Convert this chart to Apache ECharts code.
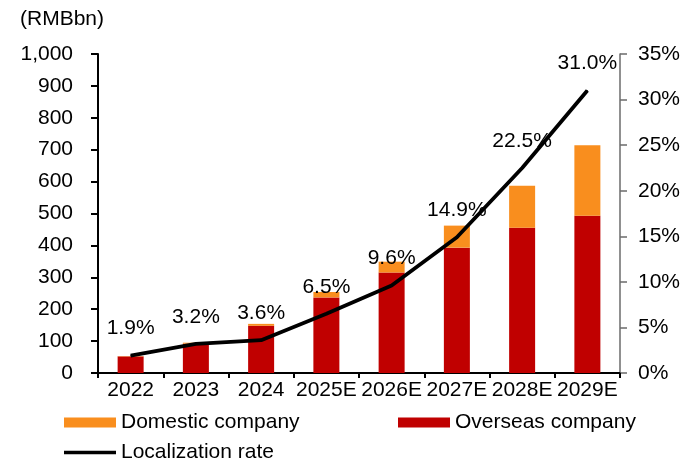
<!DOCTYPE html>
<html>
<head>
<meta charset="utf-8">
<script src="https://cdn.jsdelivr.net/npm/echarts@6/dist/echarts.min.js"></script>
<style>
  html, body { margin: 0; padding: 0; background: #fff; }
  #chart { width: 697px; height: 463px; }
</style>
</head>
<body>
<div id="chart"></div>
<script>
// Market size by year (RMB bn), split by supplier origin, plus localization rate (%)
const years = ['2022', '2023', '2024', '2025E', '2026E', '2027E', '2028E', '2029E'];
const overseas = [52, 92, 148, 237, 315, 393, 455, 493];
const domestic = [1, 3, 6, 17, 34, 69, 132, 221];
const localizationRate = [1.9, 3.2, 3.6, 6.5, 9.6, 14.9, 22.5, 31.0];

const FONT = 'Liberation Sans, Arial, sans-serif';
const FS = 21;

const legendText = { fontSize: FS, fontFamily: FONT, color: '#000' };

const chart = echarts.init(document.getElementById('chart'), null, { renderer: 'canvas' });

chart.setOption({
  animation: false,
  backgroundColor: '#ffffff',
  textStyle: { fontFamily: FONT, color: '#000' },
  grid: { left: 98, right: 77, top: 54, bottom: 90, containLabel: false },
  graphic: [{
    type: 'text',
    left: 20,
    top: 9,
    style: { text: '(RMBbn)', font: FS + 'px ' + FONT, fill: '#000' }
  }],
  legend: [
    {
      data: [{ name: 'Domestic company', icon: 'rect' }],
      left: 64, top: 412, padding: 0,
      itemWidth: 52, itemHeight: 10, itemGap: 0,
      textStyle: legendText
    },
    {
      data: [{ name: 'Overseas company', icon: 'rect' }],
      left: 398, top: 412, padding: 0,
      itemWidth: 52, itemHeight: 10, itemGap: 0,
      textStyle: legendText
    },
    {
      data: [{ name: 'Localization rate', icon: 'rect', itemStyle: { color: '#000' } }],
      left: 64, top: 442, padding: 0,
      itemWidth: 52, itemHeight: 3.5, itemGap: 0,
      textStyle: legendText
    }
  ],
  xAxis: {
    type: 'category',
    data: years,
    boundaryGap: true,
    axisLine: { lineStyle: { color: '#000', width: 2 } },
    axisTick: { show: true, length: 5, inside: false, lineStyle: { color: '#000', width: 2 } },
    axisLabel: { fontSize: FS, fontFamily: FONT, color: '#000', margin: 7, interval: 0 },
    splitLine: { show: false }
  },
  yAxis: [
    {
      type: 'value',
      min: 0, max: 1000, interval: 100,
      position: 'left',
      axisLine: { show: true, lineStyle: { color: '#000', width: 2 } },
      axisTick: { show: true, length: 7, lineStyle: { color: '#000', width: 2 } },
      axisLabel: {
        fontSize: FS, fontFamily: FONT, color: '#000', margin: 25,
        formatter: v => v.toLocaleString('en-US')
      },
      splitLine: { show: false }
    },
    {
      type: 'value',
      min: 0, max: 35, interval: 5,
      position: 'right',
      axisLine: { show: true, lineStyle: { color: '#6b6b6b', width: 1.5 } },
      axisTick: { show: true, length: 7, lineStyle: { color: '#6b6b6b', width: 1.5 } },
      axisLabel: {
        fontSize: FS, fontFamily: FONT, color: '#000', margin: 18,
        formatter: v => v + '%'
      },
      splitLine: { show: false }
    }
  ],
  series: [
    {
      name: 'Overseas company',
      type: 'bar',
      stack: 'total',
      barWidth: 26,
      data: overseas,
      itemStyle: { color: '#C00000' }
    },
    {
      name: 'Domestic company',
      type: 'bar',
      stack: 'total',
      barWidth: 26,
      data: domestic,
      itemStyle: { color: '#F98E1E' }
    },
    {
      name: 'Localization rate',
      type: 'line',
      yAxisIndex: 1,
      data: localizationRate,
      symbol: 'circle',
      symbolSize: 1,
      showSymbol: true,
      lineStyle: { color: '#000', width: 3.8 },
      itemStyle: { color: '#000' },
      label: {
        show: true,
        position: 'top',
        distance: 16,
        fontSize: FS,
        fontFamily: FONT,
        color: '#000',
        formatter: p => p.value.toFixed(1) + '%'
      },
      labelLayout: { hideOverlap: false },
      z: 5
    }
  ]
});
</script>
</body>
</html>
